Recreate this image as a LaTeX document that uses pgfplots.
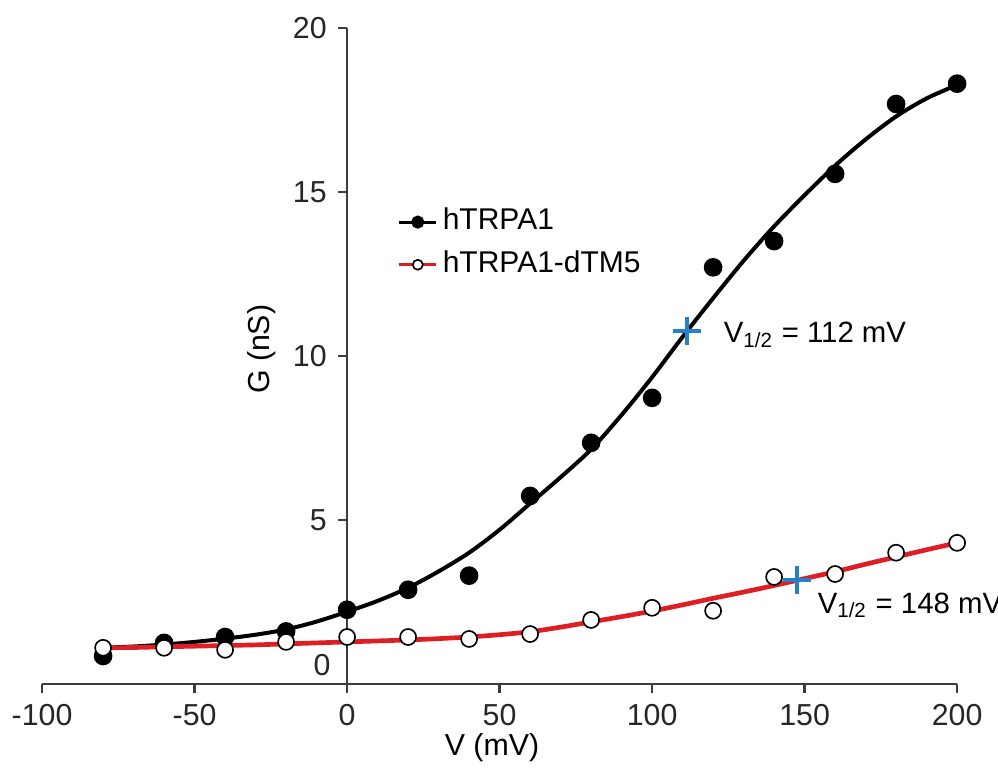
\documentclass[border=0pt]{standalone}
\usepackage{fontspec}
\setmainfont{Liberation Sans}
\usepackage{pgfplots}
\pgfplotsset{compat=1.18}
\definecolor{fitred}{RGB}{222,30,34}
\definecolor{crossblue}{RGB}{38,128,200}
\definecolor{axgray}{RGB}{60,60,60}
\newcommand{\tf}{\fontsize{9.1}{11}\selectfont}
\begin{document}
\begin{tikzpicture}
\begin{axis}[
  scale only axis, width=274.5pt, height=196.8pt,
  xmin=-100, xmax=200, ymin=0, ymax=20,
  axis lines=middle, axis line style={-, axgray, line width=0.7pt},
  xtick={-100,-50,...,200}, ytick={5,10,15,20},
  hide obscured x ticks=false, hide obscured y ticks=false,
  tick align=outside, major tick length=2.6pt,
  tick style={axgray, line width=0.7pt},
  /pgf/number format/assume math mode=true,
  ticklabel style={font=\tf, text=black!85},
  clip=false,
  legend style={draw=none, fill=none, at={(axis cs:16.4,14.75)}, anchor=north west,
    inner sep=0pt, row sep=0pt, font=\fontsize{9}{10}\selectfont,
    nodes={inner sep=1.5pt, text height=7.2pt, text depth=2.6pt}},
  legend cell align=left,
  legend image code/.code={\draw[mark repeat=2,mark phase=2,#1] plot coordinates {(0pt,0pt)(5.5pt,0pt)(11pt,0pt)};},
]
\coordinate (BL) at (axis cs:-113.8,-2.62);
\coordinate (TR) at (axis cs:213.4,20.85);
\addlegendimage{black, line width=0.9pt, mark=*, mark size=1.5pt}
\addlegendentry{hTRPA1}
\addlegendimage{fitred, line width=1pt, mark=*, mark size=1.5pt, mark options={fill=white, draw=black, line width=0.5pt}}
\addlegendentry{hTRPA1-dTM5}
% Boltzmann fit, hTRPA1
\addplot[black, line width=1.2pt, smooth, forget plot] coordinates {
(-80,1.10) (-70,1.14) (-60,1.20) (-50,1.28) (-40,1.38) (-30,1.50) (-20,1.66) (-10,1.90)
(0,2.20) (10,2.53) (20,2.93) (30,3.43) (40,4.00) (50,4.70) (60,5.50) (70,6.30)
(80,7.15) (90,8.20) (100,9.35) (110,10.58) (120,11.76) (130,12.90) (140,13.95)
(150,14.90) (160,15.80) (170,16.60) (180,17.30) (190,17.85) (200,18.26)};
\addplot[only marks, mark=*, mark size=2.6pt, black, forget plot] coordinates {
(-80,0.85) (-60,1.25) (-40,1.43) (-20,1.60) (0,2.26) (20,2.87) (40,3.30) (60,5.73)
(80,7.35) (100,8.72) (120,12.70) (140,13.50) (160,15.55) (180,17.68) (200,18.30)};
% Boltzmann fit, hTRPA1-dTM5
\addplot[fitred, line width=1.4pt, smooth, forget plot] coordinates {
(-80,1.10) (-70,1.11) (-60,1.13) (-50,1.15) (-40,1.17) (-30,1.19) (-20,1.22) (-10,1.25)
(0,1.28) (10,1.31) (20,1.34) (30,1.38) (40,1.43) (50,1.50) (60,1.59) (70,1.73)
(80,1.89) (90,2.05) (100,2.22) (110,2.41) (120,2.61) (130,2.80) (140,3.00)
(150,3.21) (160,3.42) (170,3.65) (180,3.87) (190,4.09) (200,4.30)};
\addplot[only marks, mark=*, mark size=2.4pt, mark options={fill=white, draw=black, line width=0.5pt}, forget plot] coordinates {
(-80,1.10) (-60,1.10) (-40,1.04) (-20,1.28) (0,1.43) (20,1.43) (40,1.37) (60,1.52)
(80,1.95) (100,2.32) (120,2.23) (140,3.26) (160,3.35) (180,4.00) (200,4.30)};
% V1/2 markers
\addplot[only marks, mark=+, mark size=4.2pt, crossblue, mark options={line width=1.1pt}, forget plot] coordinates {(111.5,10.76) (147.5,3.17)};
\node[anchor=base west, inner sep=0pt, font=\fontsize{8.8}{10}\selectfont] at (axis cs:123.3,10.4) {V\textsubscript{1/2} = 112 mV};
\node[anchor=base west, inner sep=0pt, font=\fontsize{8.8}{10}\selectfont] at (axis cs:154.1,2.16) {V\textsubscript{1/2} = 148 mV};
\node[font=\tf, rotate=90] at (axis cs:-27.9,10.2) {G (nS)};
\node[font=\tf] at (axis cs:47.5,-1.95) {V (mV)};
\node[font=\tf, text=black!85] at (axis cs:-8.2,0.58) {0};
\end{axis}
\pgfresetboundingbox
\path[use as bounding box] (BL) rectangle (TR);
\end{tikzpicture}
\end{document}
